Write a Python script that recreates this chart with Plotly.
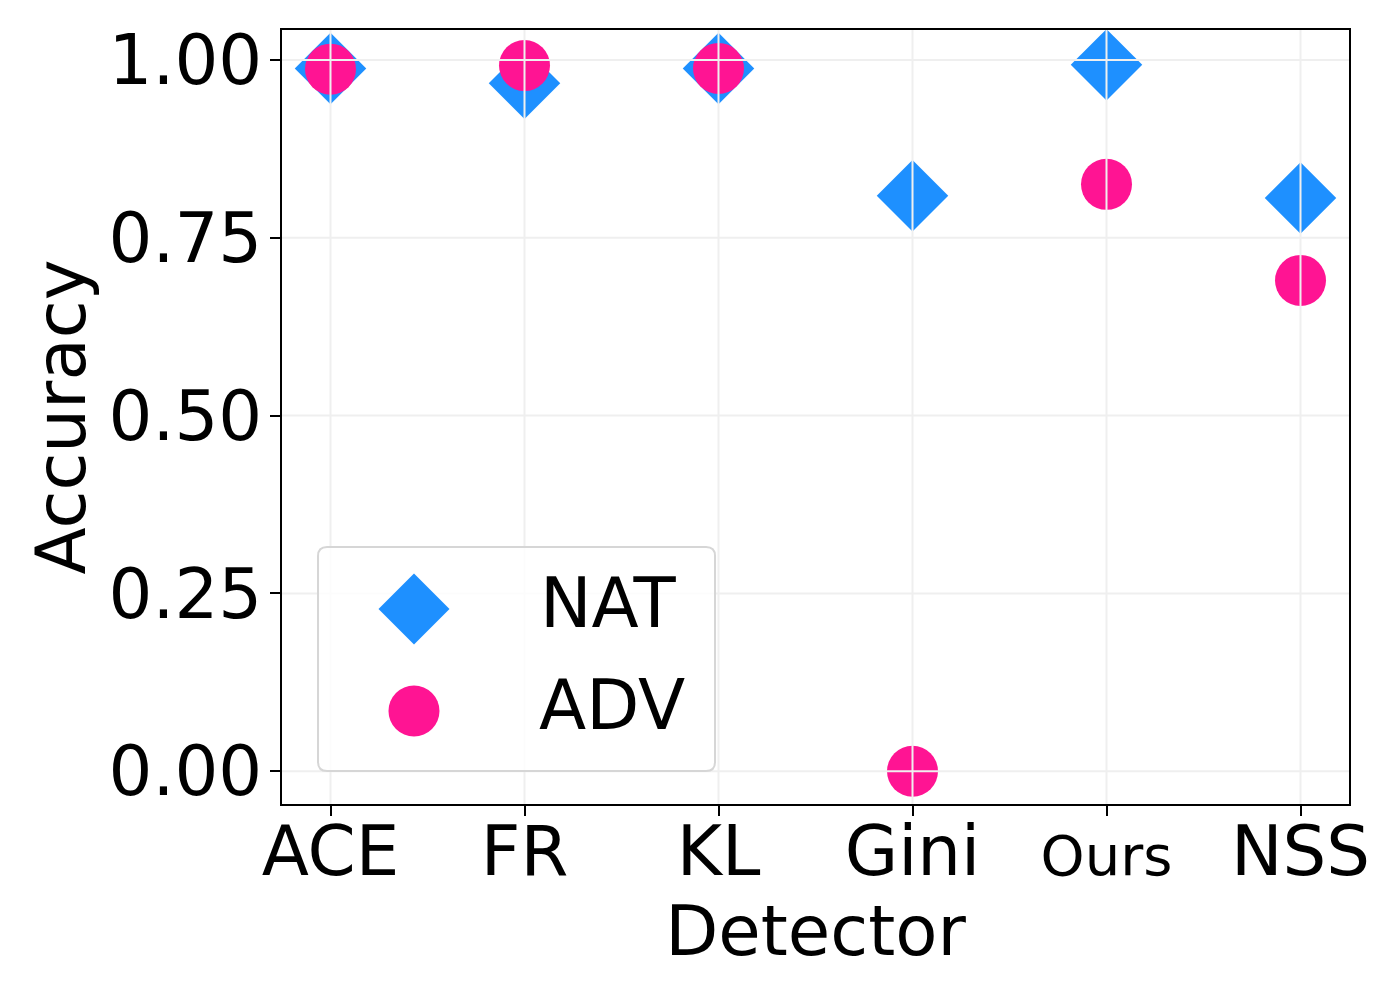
import plotly.graph_objects as go

detectors = ["ACE", "FR", "KL", "Gini", "Ours", "NSS"]
tick_text = ["ACE", "FR", "KL", "Gini", "<span style='font-size:56px'>Ours</span>", "NSS"]
nat_acc = [0.988, 0.967, 0.988, 0.809, 0.993, 0.806]
adv_acc = [0.987, 0.992, 0.988, 0.000, 0.825, 0.690]
y_ticks = [0.0, 0.25, 0.5, 0.75, 1.0]
y_tick_text = ["0.00", "0.25", "0.50", "0.75", "1.00"]
series_names = ["NAT", "ADV"]

BLUE = "#1E90FF"
PINK = "#FF1493"
FONT = "DejaVu Sans"
GRID = "#efefef"
FS = 69

fig = go.Figure()
fig.add_trace(go.Scatter(x=detectors, y=nat_acc, mode="markers", name=series_names[0],
                         marker=dict(symbol="diamond", size=55, color=BLUE, line=dict(width=0)),
                         showlegend=False))
fig.add_trace(go.Scatter(x=detectors, y=adv_acc, mode="markers", name=series_names[1],
                         marker=dict(symbol="circle", size=51, color=PINK, line=dict(width=0)),
                         showlegend=False))

shapes = []
# grid lines drawn above markers (as in reference)
for v in y_ticks:
    shapes.append(dict(type="line", xref="paper", yref="y", x0=0, x1=1, y0=v, y1=v,
                       line=dict(color=GRID, width=2), layer="above"))
for c in detectors:
    shapes.append(dict(type="line", xref="x", yref="paper", x0=c, x1=c, y0=0, y1=1,
                       line=dict(color=GRID, width=2), layer="above"))

# manual legend (large symbols, rounded frame)
hw, hh, r = 198.5, 112, 9
box = (f"M {-hw+r},{-hh} L {hw-r},{-hh} Q {hw},{-hh} {hw},{-hh+r} "
       f"L {hw},{hh-r} Q {hw},{hh} {hw-r},{hh} L {-hw+r},{hh} Q {-hw},{hh} {-hw},{hh-r} "
       f"L {-hw},{-hh+r} Q {-hw},{-hh} {-hw+r},{-hh} Z")
shapes.append(dict(type="path", xref="paper", yref="paper", xsizemode="pixel", ysizemode="pixel",
                   xanchor=0.2198, yanchor=0.1873, path=box,
                   fillcolor="rgba(255,255,255,0.8)", line=dict(color="#d6d6d6", width=2),
                   layer="above"))
d = 35.5
shapes.append(dict(type="path", xref="paper", yref="paper", xsizemode="pixel", ysizemode="pixel",
                   xanchor=0.1237, yanchor=0.2519, path=f"M 0,{d} L {d},0 L 0,{-d} L {-d},0 Z",
                   fillcolor=BLUE, line=dict(width=0), layer="above"))
cr = 25.5
shapes.append(dict(type="circle", xref="paper", yref="paper", xsizemode="pixel", ysizemode="pixel",
                   xanchor=0.1237, yanchor=0.1202, x0=-cr, x1=cr, y0=-cr, y1=cr,
                   fillcolor=PINK, line=dict(width=0), layer="above"))

annotations = [
    dict(text=series_names[0], xref="paper", yref="paper", x=0.2399, y=0.2597,
         xanchor="left", yanchor="middle", showarrow=False, font=dict(family=FONT, size=FS, color="black")),
    dict(text=series_names[1], xref="paper", yref="paper", x=0.2390, y=0.1279,
         xanchor="left", yanchor="middle", showarrow=False, font=dict(family=FONT, size=FS, color="black")),
]

fig.update_layout(
    width=1400, height=1000,
    margin=dict(l=274, r=59, t=22, b=204),
    paper_bgcolor="white", plot_bgcolor="white",
    font=dict(family=FONT, size=FS, color="black"),
    shapes=shapes, annotations=annotations,
    showlegend=False,
)
fig.update_xaxes(
    type="category", categoryorder="array", categoryarray=detectors,
    tickvals=detectors, ticktext=tick_text,
    range=[-0.25, 5.25], showgrid=False, zeroline=False,
    showline=True, linecolor="black", linewidth=2, mirror=True,
    ticks="outside", ticklen=10, tickwidth=2, tickcolor="black",
    ticklabelstandoff=-24,
    tickfont=dict(family=FONT, size=FS, color="black"),
    title=dict(text="Detector", font=dict(family=FONT, size=FS, color="black"), standoff=0),
    automargin=False,
)
fig.update_yaxes(
    range=[-0.046, 1.042], tickvals=y_ticks, ticktext=y_tick_text,
    showgrid=False, zeroline=False,
    showline=True, linecolor="black", linewidth=2, mirror=True,
    ticks="outside", ticklen=10, tickwidth=2, tickcolor="black",
    ticklabelstandoff=-6,
    tickfont=dict(family=FONT, size=FS, color="black"),
    title=dict(text="Accuracy", font=dict(family=FONT, size=FS, color="black"), standoff=0),
    automargin=False,
)

fig.write_html("out.html")
